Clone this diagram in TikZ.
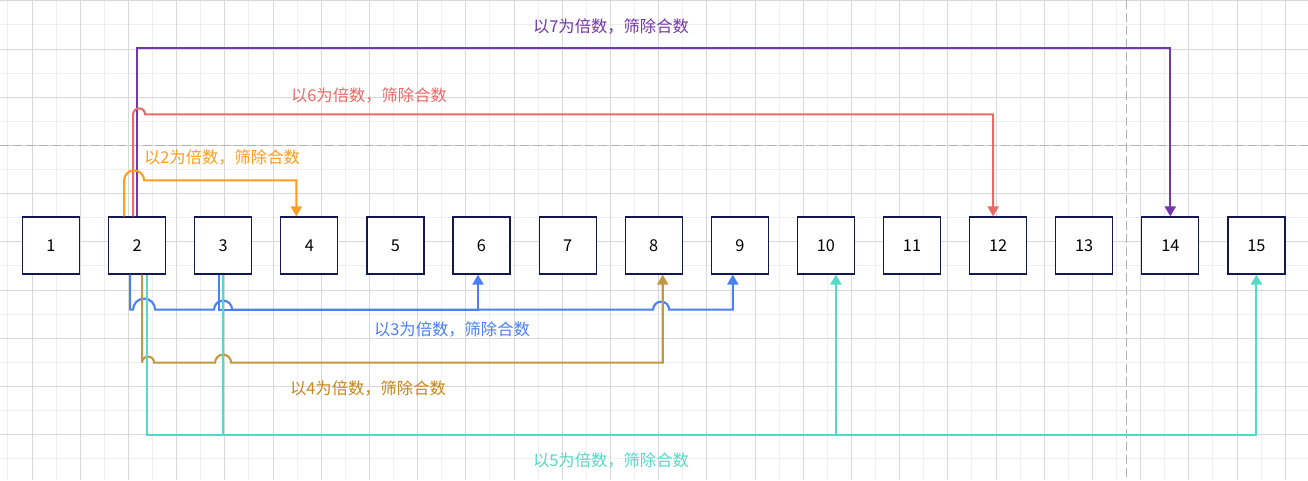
\documentclass[tikz,border=0pt]{standalone}
\usepackage{fontspec}
\setmainfont{Noto Sans CJK SC}
\usepackage{tikz}
\usetikzlibrary{arrows.meta,calc}
\definecolor{gridmin}{RGB}{238,238,238}
\definecolor{gridmaj}{RGB}{216,216,216}
\definecolor{brkc}{RGB}{178,178,178}
\definecolor{boxc}{RGB}{20,24,80}
\definecolor{mulS}{RGB}{116,54,170}
\definecolor{mulF}{RGB}{234,107,102}
\definecolor{mulT}{RGB}{255,157,30}
\definecolor{mulH}{RGB}{74,128,245}
\definecolor{mulQ}{RGB}{196,152,63}
\definecolor{mulQt}{RGB}{200,134,26}
\definecolor{mulV}{RGB}{84,217,199}

\begin{document}
\begin{tikzpicture}[x=1pt, y=-1pt, font=\fontsize{16.3}{19}\selectfont,
  >={Triangle[length=10pt,width=11pt]},
  num/.style={rectangle, draw=boxc, line width=1.2pt, fill=white,
              minimum size=57pt, inner sep=0pt},
  ln/.style={line width=2.1pt},
  lbl/.style={inner sep=0pt},
  brk/.style={brkc, line width=1pt, dash pattern=on 9pt off 4pt}]
  \useasboundingbox (0,0) rectangle (1308,480);
  \fill[white] (0,0) rectangle (1308,480);
  % background grid
  \foreach \i in {0,...,53} \draw[gridmin, line width=1pt] ({7.9+24.1*\i},0) -- ++(0,480);
  \foreach \i in {0,...,19} \draw[gridmin, line width=1pt] (0,{0.8+24.1*\i}) -- ++(1308,0);
  \foreach \i in {0,...,26} \draw[gridmaj, line width=1pt] ({32+48.2*\i},0) -- ++(0,480);
  \foreach \i in {0,...,9} \draw[gridmaj, line width=1pt] (0,{0.8+48.2*\i}) -- ++(1308,0);
  \draw[brk] (0,145) -- (1308,145);
  \draw[brk] (1126,0) -- (1126,480);
  % numbers
  \foreach \i in {1,...,15} \node[num] (n\i) at ({51+86.1*(\i-1)},245.5) {\i};
  % multiples of 7
  \draw[ln, mulS, ->] (n2.north) -- ++(0,-168) -| (n14.north);
  \node[lbl, text=mulS] (t7) at (611,26) {以7为倍数，筛除合数};
  % multiples of 6
  \draw[ln, mulF, ->] ([xshift=-4pt]n2.north) -- ++(0,-102)
    arc[start angle=180, end angle=0, radius=6pt] -| ([xshift=-5pt]n12.north);
  \node[lbl, text=mulF] (t6) at (369,95) {以6为倍数，筛除合数};
  % multiples of 2
  \draw[ln, mulT, ->] ([xshift=-13pt]n2.north) -- ++(0,-36)
    arc[start angle=180, end angle=0, radius=10pt] -| ([xshift=-13pt]n4.north);
  \node[lbl, text=mulT] (t2) at (222,157) {以2为倍数，筛除合数};
  % multiples of 3
  \draw[ln, mulH, ->] ([xshift=-7pt]n2.south) -- ++(0,35) -- ++(3,0)
    arc[start angle=180, end angle=0, radius=11pt] -- ++(59,0)
    arc[start angle=180, end angle=0, radius=9pt] -- ++(421,0)
    arc[start angle=180, end angle=0, radius=8pt] -| ([xshift=-7pt]n9.south);
  \draw[ln, mulH, ->] ([xshift=-4pt]n3.south) -- ++(0,35) -| ([xshift=-3.5pt]n6.south);
  \node[lbl, text=mulH] (t3) at (452,329) {以3为倍数，筛除合数};
  % multiples of 4
  \draw[ln, mulQ, ->] ([xshift=5pt]n2.south) -- ++(0,88)
    arc[start angle=180, end angle=0, radius=6pt] -- ++(61,0)
    arc[start angle=180, end angle=0, radius=8pt] -| ([xshift=9pt]n8.south);
  \node[lbl, text=mulQt] (t4) at (368,388) {以4为倍数，筛除合数};
  % multiples of 5
  \draw[ln, mulV, ->] ([xshift=10pt]n2.south) -- ++(0,160) -| (n15.south);
  \draw[ln, mulV, ->] (n3.south) -- ++(0,160) -| ([xshift=10pt]n10.south);
  \node[lbl, text=mulV] (t5) at (611,460) {以5为倍数，筛除合数};
\end{tikzpicture}
\end{document}
